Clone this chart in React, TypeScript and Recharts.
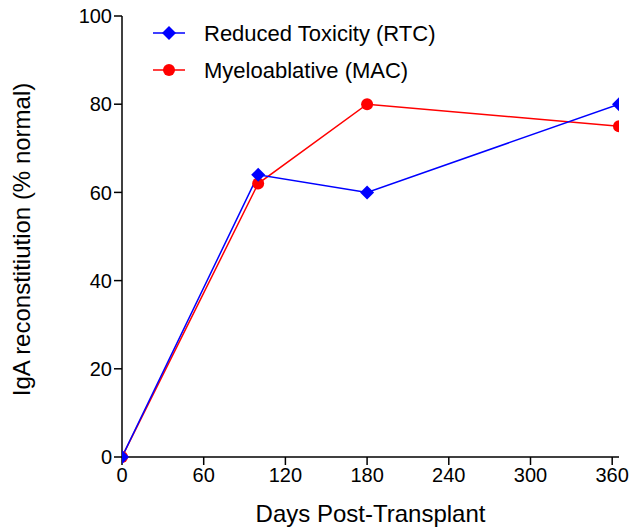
import React from 'react';
import { LineChart, Line, XAxis, YAxis } from 'recharts';

const days = [0, 100, 180, 365];
const rtcValues = [0, 64, 60, 80];
const macValues = [0, 62, 80, 75];
const xTicks = [0, 60, 120, 180, 240, 300, 360];
const yTicks = [0, 20, 40, 60, 80, 100];
const seriesNames = ['Reduced Toxicity (RTC)', 'Myeloablative (MAC)'];

const data = days.map((d, i) => ({ day: d, rtc: rtcValues[i], mac: macValues[i] }));

const FONT = '"Liberation Sans", Arial, sans-serif';

const Diamond = (props: any) => {
  const { cx, cy, fill, index } = props;
  if (cx == null || cy == null) return <g key={index} />;
  const r = 7;
  return (
    <path
      key={`d-${index}`}
      d={`M${cx},${cy - r} L${cx + r},${cy} L${cx},${cy + r} L${cx - r},${cy} Z`}
      fill={fill}
    />
  );
};

const Circle = (props: any) => {
  const { cx, cy, fill, index } = props;
  if (cx == null || cy == null) return <g key={index} />;
  return <circle key={`c-${index}`} cx={cx} cy={cy} r={6} fill={fill} />;
};

const LegendBox = () => (
  <svg width={320} height={70} style={{ position: 'absolute', left: 153, top: 16, overflow: 'visible' }}>
    <g>
      <line x1={0} y1={17} x2={32} y2={17} stroke="#0000FF" strokeWidth={1.5} />
      <path d="M16,10 L23,17 L16,24 L9,17 Z" fill="#0000FF" />
      <text x={51} y={25} fontSize={22} fontFamily={FONT} fill="#000">{seriesNames[0]}</text>
    </g>
    <g>
      <line x1={0} y1={54} x2={32} y2={54} stroke="#FF0000" strokeWidth={1.5} />
      <circle cx={16} cy={54} r={6} fill="#FF0000" />
      <text x={51} y={62} fontSize={22} fontFamily={FONT} fill="#000">{seriesNames[1]}</text>
    </g>
  </svg>
);

export default function App() {
  return (
    <div style={{ position: 'absolute', left: 0, top: 0, width: 640, height: 532, background: '#fff' }}>
      <LineChart
        width={640}
        height={532}
        data={data}
        margin={{ top: 16, right: 21, bottom: 0, left: 0 }}
      >
        <XAxis
          dataKey="day"
          type="number"
          domain={[0, 365]}
          ticks={xTicks}
          interval={0}
          allowDataOverflow
          height={75}
          stroke="#000"
          strokeWidth={1.5}
          tickSize={8}
          tickMargin={3}
          tick={{ fill: '#000', fontSize: 20, fontFamily: FONT }}
          label={{ value: 'Days Post-Transplant', position: 'insideBottom', offset: 10, fill: '#000', fontSize: 24, fontFamily: FONT }}
        />
        <YAxis
          type="number"
          domain={[0, 100]}
          ticks={yTicks}
          interval={0}
          width={122}
          stroke="#000"
          strokeWidth={1.5}
          tickSize={8}
          tickMargin={2}
          tick={{ fill: '#000', fontSize: 20, fontFamily: FONT }}
          label={{ value: 'IgA reconstitiution (% normal)', angle: -90, position: 'insideLeft', offset: 21, dy: 3, fill: '#000', fontSize: 24, fontFamily: FONT, style: { textAnchor: 'middle' } }}
        />
        <Line
          dataKey="mac"
          name={seriesNames[1]}
          stroke="#FF0000"
          strokeWidth={1.5}
          fill="#FF0000"
          dot={<Circle fill="#FF0000" />}
          activeDot={false}
          isAnimationActive={false}
        />
        <Line
          dataKey="rtc"
          name={seriesNames[0]}
          stroke="#0000FF"
          strokeWidth={1.5}
          fill="#0000FF"
          dot={<Diamond fill="#0000FF" />}
          activeDot={false}
          isAnimationActive={false}
        />
      </LineChart>
      <LegendBox />
    </div>
  );
}
